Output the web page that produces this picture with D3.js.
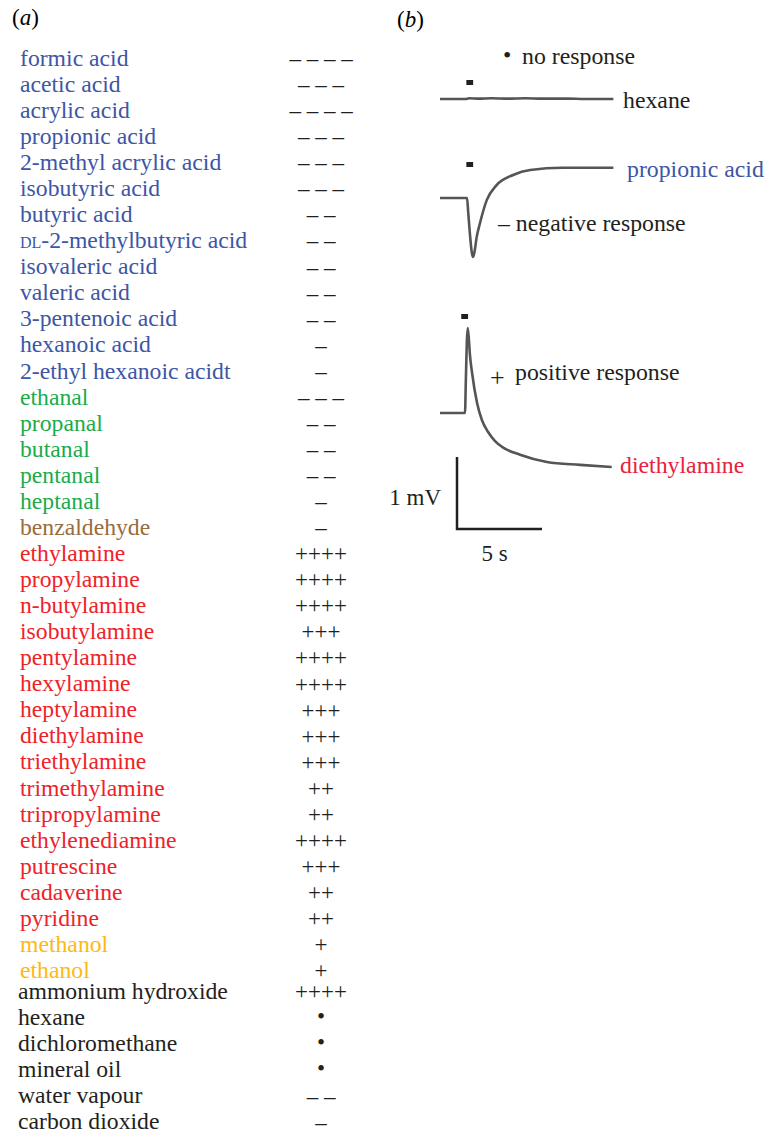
<!DOCTYPE html>
<html>
<head>
<meta charset="utf-8">
<script src="https://cdn.jsdelivr.net/npm/d3@7"></script>
<style>
  body { margin: 0; background: #fff; }
  svg { font-family: "Liberation Serif", "Times New Roman", serif; }
</style>
</head>
<body>
<svg width="765" height="1131"></svg>
<script>
// compounds tested in panel (a), in the order they are listed
var compounds = [
    "formic acid", "acetic acid", "acrylic acid", "propionic acid", "2-methyl acrylic acid",
    "isobutyric acid", "butyric acid", "DL-2-methylbutyric acid", "isovaleric acid", "valeric acid",
    "3-pentenoic acid", "hexanoic acid", "2-ethyl hexanoic acidt",
    "ethanal", "propanal", "butanal", "pentanal", "heptanal",
    "benzaldehyde",
    "ethylamine", "propylamine", "n-butylamine", "isobutylamine", "pentylamine", "hexylamine",
    "heptylamine", "diethylamine", "triethylamine", "trimethylamine", "tripropylamine",
    "ethylenediamine", "putrescine", "cadaverine", "pyridine",
    "methanol", "ethanol",
    "ammonium hydroxide", "hexane", "dichloromethane", "mineral oil", "water vapour", "carbon dioxide"
];

var responses = [
    "– – – –", "– – –", "– – – –", "– – –", "– – –",
    "– – –", "– –", "– –", "– –", "– –",
    "– –", "–", "–",
    "– – –", "– –", "– –", "– –", "–",
    "–",
    "++++", "++++", "++++", "+++", "++++", "++++",
    "+++", "+++", "+++", "++", "++",
    "++++", "+++", "++", "++",
    "+", "+",
    "++++", "•", "•", "•", "– –", "–"
];

var groups = [
    "acid", "acid", "acid", "acid", "acid",
    "acid", "acid", "acid", "acid", "acid",
    "acid", "acid", "acid",
    "aldehyde", "aldehyde", "aldehyde", "aldehyde", "aldehyde",
    "aromatic",
    "amine", "amine", "amine", "amine", "amine", "amine",
    "amine", "amine", "amine", "amine", "amine",
    "amine", "amine", "amine", "amine",
    "alcohol", "alcohol",
    "other", "other", "other", "other", "other", "other"
];

var groupNames = ["acid", "aldehyde", "aromatic", "amine", "alcohol", "other"];
var groupColours = ["#3d56a6", "#1aab4b", "#9a6b3d", "#ee2229", "#fdb913", "#231f20"];

// recordings for panel (b): [time (s), potential (mV) relative to baseline]
var hexaneTrace = [[0, 0], [1.5, 0], [1.7, 0.01], [2.3, 0.005], [3.0, 0.01], [4.0, 0.005],
    [5.0, 0.01], [6.0, 0.005], [7.5, 0.005], [8.5, 0], [10.2, 0]];
var propionicTrace = [[0, 0], [1.59, 0], [1.66, -0.2], [1.76, -0.5], [1.86, -0.74], [1.94, -0.82],
    [2.02, -0.76], [2.16, -0.54], [2.35, -0.35], [2.75, -0.03], [3.33, 0.18], [4.3, 0.32],
    [5.3, 0.39], [7.2, 0.42], [10.2, 0.42]];
var diethylTrace = [[0, 0], [1.47, 0], [1.52, 0.45], [1.58, 1.0], [1.63, 1.18], [1.7, 1.02],
    [1.76, 0.81], [1.88, 0.57], [2.18, 0.14], [2.47, -0.10], [2.82, -0.26], [3.24, -0.39],
    [3.65, -0.47], [4.71, -0.58], [6.29, -0.68], [8.24, -0.72], [10.1, -0.75]];

var stimOnsets = [1.55, 1.55, 1.25];
var stimDuration = 0.4;

var svg = d3.select("svg");

var colour = d3.scaleOrdinal().domain(groupNames).range(groupColours);

// ---- panel (a) ----
svg.append("text")
    .attr("x", 12).attr("y", 25)
    .style("font-size", "23px")
    .html("(<tspan font-style='italic'>a</tspan>)");

var row = d3.scalePoint()
    .domain(d3.range(compounds.length))
    .range([58, 1126.5]);

// the last block (controls) sits a little tighter under the alcohols
function rowY(i) { return row(i) - (groups[i] == "other" ? 5 : 0); }

var rows = svg.append("g").selectAll("g")
    .data(compounds)
    .enter().append("g")
    .attr("transform", function (d, i) { return "translate(0," + rowY(i) + ")"; });

rows.append("text")
    .attr("x", function (d, i) { return groups[i] == "other" ? 18 : 20; })
    .attr("dy", "0.33em")
    .style("font-size", "23.7px")
    .attr("fill", function (d, i) { return colour(groups[i]); })
    .each(function (d) {
        var t = d3.select(this);
        if (d.indexOf("DL-") == 0) {
            t.append("tspan").style("font-size", "16px").text("DL");
            t.append("tspan").text(d.slice(2));
        } else {
            t.text(d);
        }
    });

rows.append("text")
    .attr("x", 321)
    .attr("dy", function (d, i) { return responses[i] == "•" ? "0.3em" : "0.35em"; })
    .attr("text-anchor", "middle")
    .style("font-size", "23px")
    .attr("fill", "#231f20")
    .text(function (d, i) { return responses[i]; });

// ---- panel (b) ----
svg.append("text")
    .attr("x", 397).attr("y", 27)
    .style("font-size", "23px")
    .html("(<tspan font-style='italic'>b</tspan>)");

var x = d3.scaleLinear().domain([0, 10]).range([440, 610]);
var y = d3.scaleLinear().domain([0, 1]).range([0, -72]);

var line = d3.line()
    .x(function (d) { return x(d[0]); })
    .y(function (d) { return y(d[1]); })
    .curve(d3.curveMonotoneX);

var traces = [
    { data: hexaneTrace, base: 99, stimY: -19, label: "hexane", lx: 623, ly: 100, col: "#231f20" },
    { data: propionicTrace, base: 198, stimY: -36, label: "propionic acid", lx: 627, ly: 169, col: "#3d56a6" },
    { data: diethylTrace, base: 413, stimY: -99, label: "diethylamine", lx: 620, ly: 465, col: "#e8213f" }
];

traces.forEach(function (tr, i) {
    var g = svg.append("g").attr("transform", "translate(0," + tr.base + ")");
    g.append("path")
        .datum(tr.data)
        .attr("d", line)
        .attr("fill", "none")
        .attr("stroke", "#555")
        .attr("stroke-width", 2.6)
        .attr("stroke-linejoin", "round");
    g.append("rect")
        .attr("x", x(stimOnsets[i]))
        .attr("y", tr.stimY)
        .attr("width", x(stimDuration) - x(0))
        .attr("height", 5)
        .attr("fill", "#231f20");
    svg.append("text")
        .attr("x", tr.lx).attr("y", tr.ly)
        .attr("dy", "0.33em")
        .style("font-size", "23.8px")
        .attr("fill", tr.col)
        .text(tr.label);
});

// key to the symbols
var key = svg.append("g").style("font-size", "23.8px").attr("fill", "#231f20");
key.append("text").attr("x", 503).attr("y", 56).attr("dy", "0.3em").text("•");
key.append("text").attr("x", 522).attr("y", 56).attr("dy", "0.33em").text("no response");
key.append("text").attr("x", 498).attr("y", 223).attr("dy", "0.33em").text("– negative response");
key.append("text").attr("x", 490).attr("y", 377).attr("dy", "0.35em").style("font-size", "26px").text("+");
key.append("text").attr("x", 515).attr("y", 372).attr("dy", "0.33em").text("positive response");

// scale bar: 5 s by 1 mV
var bar = svg.append("g").attr("transform", "translate(0,529)");
bar.append("path")
    .attr("d", "M" + x(1) + "," + y(1) + "V0H" + x(6))
    .attr("fill", "none")
    .attr("stroke", "#231f20")
    .attr("stroke-width", 2.5);
bar.append("text")
    .attr("x", x(1) - 16).attr("y", y(0.45))
    .attr("dy", "0.35em")
    .attr("text-anchor", "end")
    .style("font-size", "23px")
    .attr("fill", "#231f20")
    .text("1 mV");
bar.append("text")
    .attr("x", (x(1) + x(6)) / 2 - 5).attr("y", 24)
    .attr("dy", "0.35em")
    .attr("text-anchor", "middle")
    .style("font-size", "23px")
    .attr("fill", "#231f20")
    .text("5 s");
</script>
</body>
</html>
